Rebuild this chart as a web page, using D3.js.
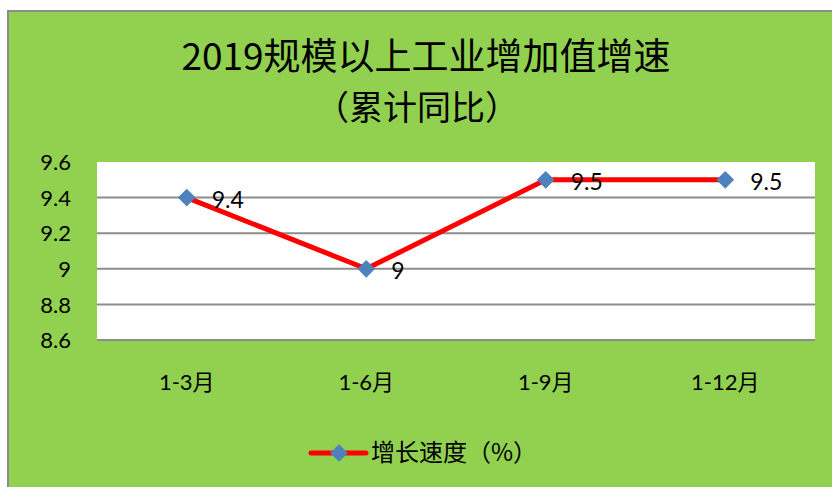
<!DOCTYPE html>
<html>
<head>
<meta charset="utf-8">
<script src="https://cdn.jsdelivr.net/npm/d3@7"></script>
<style>
  body { margin: 0; background: #fff; }
  svg { display: block; }
</style>
</head>
<body>
<div id="chart"></div>
<script>
// chart data
const titleLines = ["2019规模以上工业增加值增速", "（累计同比）"];
const periods = ["1-3月", "1-6月", "1-9月", "1-12月"];
const growth = [9.4, 9.0, 9.5, 9.5];
const yTicks = [8.6, 8.8, 9.0, 9.2, 9.4, 9.6];
const seriesName = "增长速度（%）";

(function draw() {
  const W = 832, H = 487;
  const plot = {left: 97, right: 815, top: 162, bottom: 340};
  const latin = "Lato, 'Noto Sans', sans-serif";
  const cjk = "Lato, 'Noto Sans CJK SC', sans-serif";

  const svg = d3.select("#chart").append("svg")
    .attr("width", W).attr("height", H);

  // outer frame
  svg.append("rect").attr("x", 7).attr("y", 10).attr("width", W).attr("height", H)
    .attr("fill", "#8c8c8c");
  svg.append("rect").attr("x", 9).attr("y", 12).attr("width", W).attr("height", H)
    .attr("fill", "#92d050");

  // title
  svg.append("text")
    .attr("x", 426).attr("y", 70)
    .attr("text-anchor", "middle")
    .style("font-family", "'Noto Sans CJK SC', sans-serif")
    .style("font-size", "37px")
    .attr("fill", "#000")
    .text(titleLines[0]);
  svg.append("text")
    .attr("x", 417).attr("y", 120)
    .attr("text-anchor", "middle")
    .style("font-family", "'Noto Sans CJK SC', sans-serif")
    .style("font-size", "34px")
    .attr("fill", "#000")
    .text(titleLines[1]);

  const x = d3.scaleBand().domain(periods).range([plot.left, plot.right]);
  const y = d3.scaleLinear().domain([8.6, 9.6]).range([plot.bottom, plot.top]);

  // plot area
  svg.append("rect")
    .attr("x", plot.left).attr("y", plot.top)
    .attr("width", plot.right - plot.left).attr("height", plot.bottom - plot.top)
    .attr("fill", "#fff");

  // gridlines
  svg.selectAll(".grid")
    .data(yTicks.slice(0, -1))
    .enter().append("line")
      .attr("class", "grid")
      .attr("x1", plot.left).attr("x2", plot.right)
      .attr("y1", d => y(d)).attr("y2", d => y(d))
      .attr("stroke", "#8c8c8c").attr("stroke-width", 2);

  // y axis
  const yAxis = svg.append("g")
    .attr("transform", `translate(${plot.left - 26},0)`)
    .call(d3.axisLeft(y).tickValues(yTicks).tickSize(0).tickPadding(0)
      .tickFormat(d => d3.format("")(+d.toFixed(1))));
  yAxis.select(".domain").remove();
  yAxis.selectAll("text")
    .style("font-family", latin).style("font-size", "22px")
    .attr("fill", "#000").attr("dy", "0.35em");

  // x axis labels
  const xAxis = svg.append("g")
    .attr("transform", `translate(0,${plot.bottom + 34})`)
    .call(d3.axisBottom(x).tickSize(0).tickPadding(0));
  xAxis.select(".domain").remove();
  xAxis.selectAll("text")
    .style("font-family", cjk).style("font-size", "22px")
    .attr("fill", "#000");

  const cx = d => x(d) + x.bandwidth() / 2;
  const pts = periods.map((p, i) => ({p, v: growth[i]}));

  // line
  svg.append("path")
    .datum(pts)
    .attr("d", d3.line().x(d => cx(d.p)).y(d => y(d.v)))
    .attr("fill", "none")
    .attr("stroke", "#ff0000")
    .attr("stroke-width", 5)
    .attr("stroke-linejoin", "round");

  const diamond = d3.symbol().type(d3.symbolDiamond2).size(200);

  svg.selectAll(".marker")
    .data(pts)
    .enter().append("path")
      .attr("class", "marker")
      .attr("d", diamond)
      .attr("transform", d => `translate(${cx(d.p)},${y(d.v)})`)
      .attr("fill", "#4f81bd");

  // data labels
  svg.selectAll(".label")
    .data(pts)
    .enter().append("text")
      .attr("class", "label")
      .attr("x", d => cx(d.p) + 25)
      .attr("y", d => y(d.v) + 2)
      .attr("dy", "0.35em")
      .style("font-family", latin).style("font-size", "23px")
      .attr("fill", "#000")
      .text(d => d3.format("")(d.v));

  // legend
  const lg = svg.append("g").attr("transform", "translate(311,453)");
  lg.append("line").attr("x1", 0).attr("x2", 55).attr("y1", 0).attr("y2", 0)
    .attr("stroke", "#ff0000").attr("stroke-width", 5).attr("stroke-linecap", "round");
  lg.append("path").attr("d", diamond).attr("transform", "translate(28,0)")
    .attr("fill", "#4f81bd");
  lg.append("text").attr("x", 60).attr("y", 0).attr("dy", "0.35em")
    .style("font-family", "'Noto Sans CJK SC', sans-serif").style("font-size", "24px")
    .attr("fill", "#000")
    .text(seriesName);
})();
</script>
</body>
</html>
